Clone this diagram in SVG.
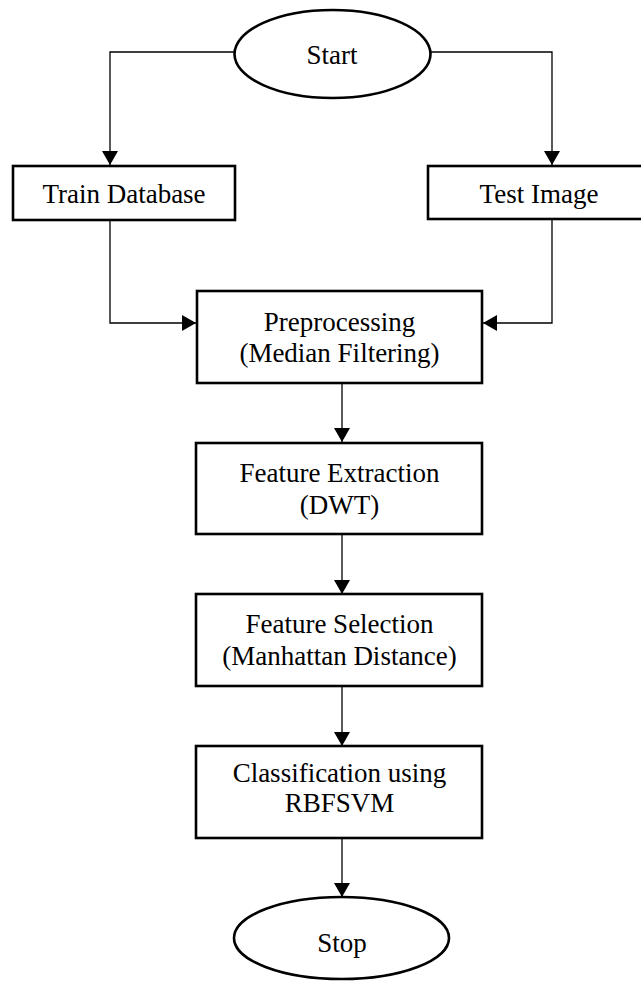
<svg xmlns="http://www.w3.org/2000/svg" width="641" height="983" viewBox="0 0 641 983">
<defs>
<marker id="arr" markerUnits="userSpaceOnUse" markerWidth="14" markerHeight="16" refX="14" refY="8" orient="auto">
<path d="M0,0 L14,8 L0,16 z" fill="#000"/>
</marker>
<style>
.box{fill:#fff;stroke:#000;stroke-width:2.6}
.t{font-family:"Liberation Serif","Times New Roman",serif;font-size:27px;fill:#000;text-anchor:middle}
.c{fill:none;stroke:#000;stroke-width:1.3}
</style>
</defs>
<rect width="641" height="983" fill="#fff"/>
<g id="connectors">
<path class="c" d="M234,52 H110 V165" marker-end="url(#arr)"/>
<path class="c" d="M431,52 H552 V165" marker-end="url(#arr)"/>
<path class="c" d="M110,220 V323 H196" marker-end="url(#arr)"/>
<path class="c" d="M552,219 V323 H483" marker-end="url(#arr)"/>
<path class="c" d="M342,383 V442" marker-end="url(#arr)"/>
<path class="c" d="M342,534 V594" marker-end="url(#arr)"/>
<path class="c" d="M342,686 V746" marker-end="url(#arr)"/>
<path class="c" d="M342,838 V897" marker-end="url(#arr)"/>
</g>
<g id="start">
<ellipse class="box" cx="332.5" cy="54" rx="98" ry="44"/>
<text class="t" x="332" y="64">Start</text>
</g>
<g id="train">
<rect class="box" x="13" y="166" width="222" height="54"/>
<text class="t" x="124" y="203">Train Database</text>
</g>
<g id="test">
<rect class="box" x="428" y="166" width="222" height="53"/>
<text class="t" x="539" y="203">Test Image</text>
</g>
<g id="preprocessing">
<rect class="box" x="197" y="291" width="285" height="92"/>
<text class="t" x="339.5" y="331">Preprocessing</text>
<text class="t" x="339.5" y="362">(Median Filtering)</text>
</g>
<g id="extraction">
<rect class="box" x="196" y="443" width="286" height="91"/>
<text class="t" x="339.5" y="482">Feature Extraction</text>
<text class="t" x="339.5" y="514">(DWT)</text>
</g>
<g id="selection">
<rect class="box" x="196" y="594" width="286" height="92"/>
<text class="t" x="339.5" y="633">Feature Selection</text>
<text class="t" x="339.5" y="665">(Manhattan Distance)</text>
</g>
<g id="classification">
<rect class="box" x="196" y="746" width="286" height="92"/>
<text class="t" x="339.5" y="782">Classification using</text>
<text class="t" x="339.5" y="812">RBFSVM</text>
</g>
<g id="stop">
<ellipse class="box" cx="341.5" cy="938" rx="107.5" ry="41"/>
<text class="t" x="342" y="952">Stop</text>
</g>
</svg>
